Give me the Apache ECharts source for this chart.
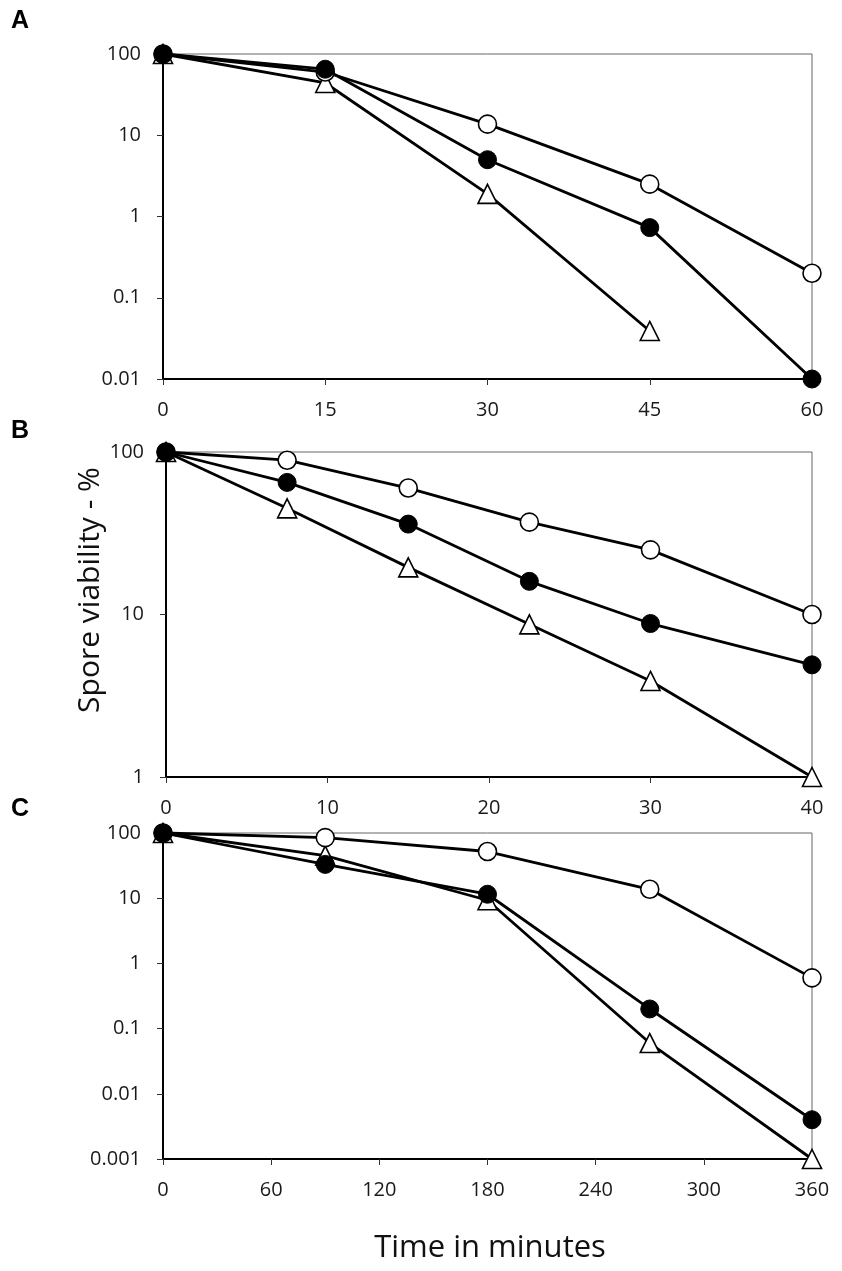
<!DOCTYPE html>
<html>
<head>
    <meta charset="utf-8">
    <title>Spore viability</title>
    <script src="https://cdn.jsdelivr.net/npm/echarts@6/dist/echarts.min.js"></script>
    <style>
        html, body { margin: 0; padding: 0; background: #fff; }
    </style>
</head>
<body>
    <div id="main" style="width: 842px;height:1271px;"></div>

    <script type="text/javascript">
        // panel A: time points and viability (%)
        var timeA = [0, 15, 30, 45, 60];
        var openA = [100, 60, 13.7, 2.5, 0.2];
        var filledA = [100, 65, 5, 0.73, 0.01];
        var triA = [100, 44, 1.9, 0.039];

        // panel B
        var timeB = [0, 7.5, 15, 22.5, 30, 40];
        var openB = [100, 89, 60, 37, 25, 10];
        var filledB = [100, 65, 36, 16, 8.8, 4.9];
        var triB = [100, 45, 19.5, 8.7, 3.9, 1];

        // panel C
        var timeC = [0, 90, 180, 270, 360];
        var openC = [100, 85, 52, 13.7, 0.6];
        var filledC = [100, 33, 11.5, 0.2, 0.004];
        var triC = [100, 45, 9.3, 0.06, 0.001];

        var fontTick = "'Open Sans', 'Noto Sans', sans-serif";
        var fontTitle = "'Open Sans', 'Noto Sans', sans-serif";

        function pairs(xs, ys) {
            return ys.map(function (y, i) { return [xs[i], y]; });
        }

        var myChart = echarts.init(document.getElementById('main'));

        var grids = [
            {left: 163, top: 54, width: 649, height: 325},
            {left: 166, top: 452, width: 646, height: 325},
            {left: 163, top: 833, width: 649, height: 326}
        ];

        var xSpecs = [
            {max: 60, interval: 15},
            {max: 40, interval: 10},
            {max: 360, interval: 60}
        ];
        var ySpecs = [
            {min: 0.01, max: 100},
            {min: 1, max: 100},
            {min: 0.001, max: 100}
        ];

        var xAxes = xSpecs.map(function (s, i) {
            return {
                type: 'value', gridIndex: i, min: 0, max: s.max, interval: s.interval,
                axisLine: {lineStyle: {color: '#000', width: 2}},
                axisTick: {show: true, length: 6, lineStyle: {color: '#333', width: 1}},
                axisLabel: {margin: 21, color: '#1a1a1a', fontSize: 20, fontFamily: fontTick},
                splitLine: {show: false}
            };
        });

        var yAxes = ySpecs.map(function (s, i) {
            return {
                type: 'log', logBase: 10, gridIndex: i, min: s.min, max: s.max,
                axisLine: {show: true, lineStyle: {color: '#000', width: 2}},
                axisTick: {show: true, length: 6, lineStyle: {color: '#333', width: 1}},
                axisLabel: {
                    margin: 22, color: '#1a1a1a', fontSize: 20, fontFamily: fontTick,
                    formatter: function (v) { return String(+v.toPrecision(3)); }
                },
                splitLine: {show: false}
            };
        });

        function mk(name, xs, ys, gi, kind) {
            var style;
            if (kind === 'filled') {
                style = {color: '#000', borderColor: '#000', borderWidth: 1};
            } else {
                style = {color: '#fff', borderColor: '#000', borderWidth: 1.6};
            }
            return {
                name: name, type: 'line', xAxisIndex: gi, yAxisIndex: gi,
                data: pairs(xs, ys),
                symbol: kind === 'tri' ? 'triangle' : 'circle',
                symbolSize: kind === 'tri' ? 19 : 18,
                showSymbol: true, clip: false, animation: false,
                lineStyle: {color: '#000', width: 2.8},
                itemStyle: style,
                z: kind === 'filled' ? 4 : (kind === 'open' ? 3 : 2)
            };
        }

        var series = [
            mk('triA', timeA, triA, 0, 'tri'),
            mk('openA', timeA, openA, 0, 'open'),
            mk('filledA', timeA, filledA, 0, 'filled'),
            mk('triB', timeB, triB, 1, 'tri'),
            mk('openB', timeB, openB, 1, 'open'),
            mk('filledB', timeB, filledB, 1, 'filled'),
            mk('triC', timeC, triC, 2, 'tri'),
            mk('openC', timeC, openC, 2, 'open'),
            mk('filledC', timeC, filledC, 2, 'filled')
        ];

        var option = {
            backgroundColor: '#fff',
            grid: grids.map(function (g) {
                return Object.assign({show: true, borderColor: '#666', borderWidth: 1,
                    backgroundColor: 'transparent'}, g);
            }),
            xAxis: xAxes,
            yAxis: yAxes,
            series: series,
            graphic: [
                {type: 'text', left: 11, top: 9,
                    style: {text: 'A', font: 'bold 25px "Liberation Sans", sans-serif', fill: '#000'}},
                {type: 'text', left: 11, top: 419,
                    style: {text: 'B', font: 'bold 25px "Liberation Sans", sans-serif', fill: '#000'}},
                {type: 'text', left: 11, top: 797,
                    style: {text: 'C', font: 'bold 25px "Liberation Sans", sans-serif', fill: '#000'}},
                {type: 'text', x: 90, y: 590, rotation: Math.PI / 2,
                    style: {text: 'Spore viability - %', font: '30px ' + fontTitle, fill: '#111',
                        textAlign: 'center', textVerticalAlign: 'middle'}},
                {type: 'text', x: 490, y: 1248,
                    style: {text: 'Time in minutes', font: '31px ' + fontTitle, fill: '#111',
                        textAlign: 'center', textVerticalAlign: 'middle'}}
            ]
        };

        myChart.setOption(option);
    </script>
</body>
</html>
